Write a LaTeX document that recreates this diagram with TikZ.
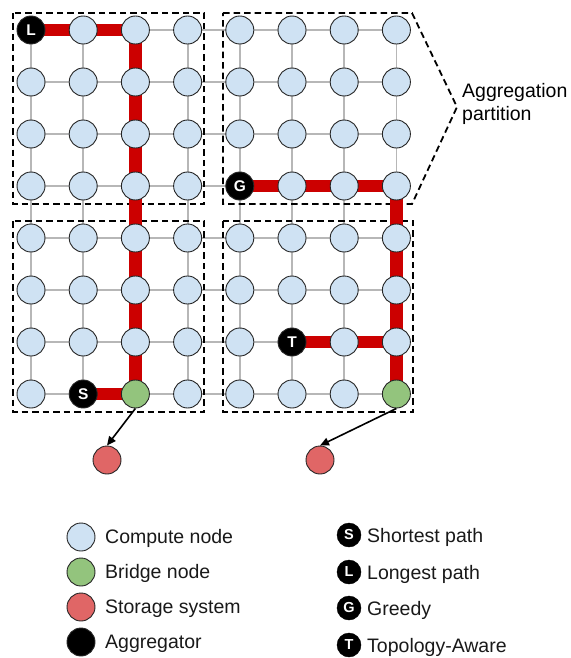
\documentclass[tikz,border=0pt]{standalone}
\usepackage{fontspec}
\setmainfont{Liberation Sans}
\usetikzlibrary{arrows.meta}
\pgfdeclarelayer{bg}
\pgfdeclarelayer{mid}
\pgfsetlayers{bg,mid,main}
\definecolor{computeblue}{HTML}{CFE2F3}
\definecolor{bridgegreen}{HTML}{93C47D}
\definecolor{storagered}{HTML}{E06666}
\definecolor{pathred}{HTML}{CC0000}
\definecolor{gridgray}{HTML}{B7B7B7}
\begin{document}
\begin{tikzpicture}[x=1pt,y=-1pt,
  basenode/.style={circle, draw=black!85, line width=0.9pt, minimum size=28pt, inner sep=0pt},
  cnode/.style={basenode, fill=computeblue},
  brnode/.style={basenode, fill=bridgegreen},
  stnode/.style={basenode, fill=storagered},
  agg/.style={basenode, fill=black, text=white, font=\fontsize{15.5}{15.5}\selectfont\bfseries},
  legagg/.style={circle, fill=black, draw=black, minimum size=24pt, inner sep=0pt, text=white, font=\fontsize{14.5}{14.5}\selectfont\bfseries},
  gridline/.style={draw=gridgray, line width=1.8pt},
  redpath/.style={draw=pathred, line width=12.5pt},
  partition/.style={draw=black, line width=1.8pt, dash pattern=on 6.5pt off 4pt},
  flow/.style={-{Triangle[length=9pt,width=8pt]}, line width=1.6pt, draw=black},
  lbl/.style={font=\fontsize{19.5}{23}\selectfont, anchor=base west, inner sep=0pt, text=black!90}
]
\useasboundingbox (0,0) rectangle (570,658);

% compute nodes
\foreach \r/\cols in {0/{1,...,7}, 1/{0,...,7}, 2/{0,...,7}, 3/{0,1,2,3,5,6,7}, 4/{0,...,7}, 5/{0,...,7}, 6/{0,1,2,3,4,6,7}, 7/{0,3,4,5,6}}{
  \foreach \c in \cols {
    \node[cnode] (n-\c-\r) at ({31+52.2*\c},{30+52*\r}) {};
  }
}
% special nodes
\node[agg] (n-0-0) at ({31+52.2*0},{30+52*0}) {L};
\node[agg] (n-1-7) at ({31+52.2*1},{30+52*7}) {S};
\node[brnode] (n-2-7) at ({31+52.2*2},{30+52*7}) {};
\node[agg] (n-4-3) at ({31+52.2*4},{30+52*3}) {G};
\node[agg] (n-5-6) at ({31+52.2*5},{30+52*6}) {T};
\node[brnode] (n-7-7) at ({31+52.2*7},{30+52*7}) {};

% storage
\node[stnode] (st1) at (107,460) {};
\node[stnode] (st2) at (320,460) {};

% grid lines
\begin{pgfonlayer}{bg}
\foreach \a in {0,...,7}{
  \foreach \b [evaluate=\b as \bn using int(\b+1)] in {0,...,6}{
    \draw[gridline] (n-\a-\b.center) -- (n-\a-\bn.center);
    \draw[gridline] (n-\b-\a.center) -- (n-\bn-\a.center);
  }
}
\end{pgfonlayer}

% partitions and paths
\begin{pgfonlayer}{mid}
\draw[partition] (13,13) rectangle (204,204);
\draw[partition] (223,13) -- (412,13) -- (457,107) -- (412,204) -- (223,204) -- cycle;
\draw[partition] (13,221) rectangle (204,412);
\draw[partition] (223,221) rectangle (413,412);
\draw[redpath] (n-0-0.center) -- (n-2-0.center) -- (n-2-7.center);
\draw[redpath] (n-1-7.center) -- (n-2-7.center);
\draw[redpath] (n-4-3.center) -- (n-7-3.center) -- (n-7-7.center);
\draw[redpath] (n-5-6.center) -- (n-7-6.center);
\end{pgfonlayer}

\node[font=\fontsize{19.5}{23}\selectfont, align=left, anchor=north west, inner sep=0pt] (aggtext) at (462,83) {Aggregation\\partition};

% arrows
\draw[flow] (n-2-7.south) -- (st1.north);
\draw[flow] (n-7-7.south) -- (st2.north);

% legend left
\node[cnode] (lc) at (81,537) {};
\node[brnode] (lb) at (81,572) {};
\node[stnode] (ls) at (81,607) {};
\node[basenode, fill=black] (la) at (81,642) {};
\node[lbl] (tc) at (105,543) {Compute node};
\node[lbl] (tb) at (105,578) {Bridge node};
\node[lbl] (ts) at (105,613) {Storage system};
\node[lbl] (ta) at (105,648) {Aggregator};

% legend right
\node[legagg] (rs) at (349,535) {S};
\node[legagg] (rl) at (349,572) {L};
\node[legagg] (rg) at (349,608) {G};
\node[legagg] (rt) at (349,645) {T};
\node[lbl] (trs) at (367,542) {Shortest path};
\node[lbl] (trl) at (367,579) {Longest path};
\node[lbl] (trg) at (367,615) {Greedy};
\node[lbl] (trt) at (367,652) {Topology-Aware};
\end{tikzpicture}
\end{document}
